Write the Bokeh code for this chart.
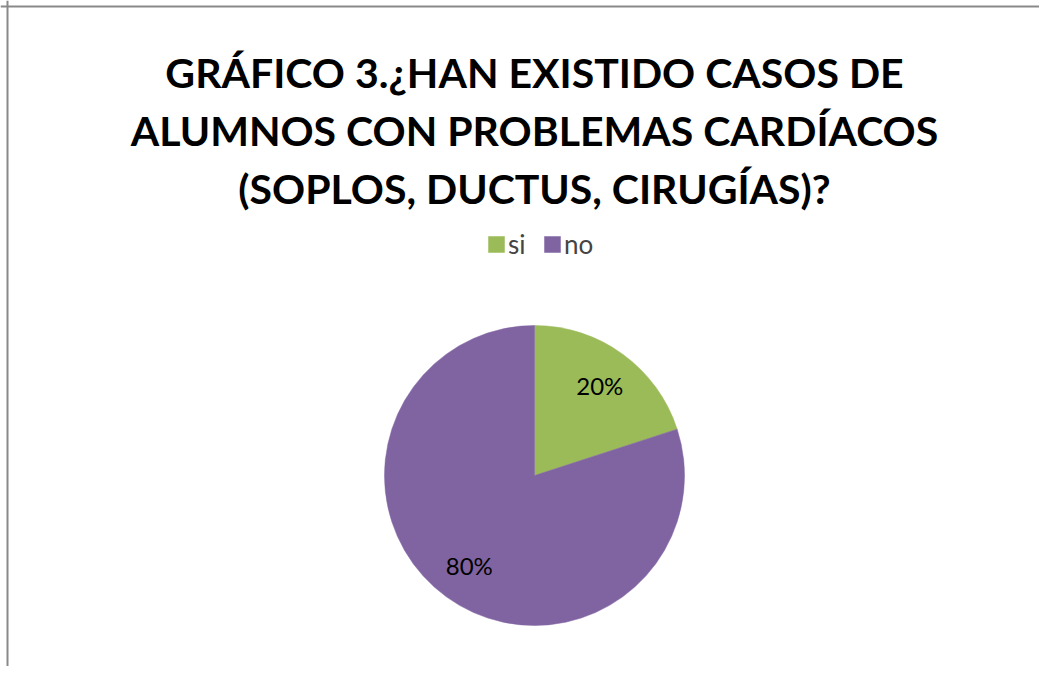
import math
from bokeh.plotting import figure
from bokeh.models import Range1d, ColumnDataSource, Legend, LegendItem, Span
from bokeh.core.properties import value
from bokeh.embed import file_html
from bokeh.resources import INLINE

# ---- data ----
categories = ["si", "no"]
values = [20, 80]
colors = ["#9BBB59", "#8064A2"]
title_lines = [
    "GRÁFICO 3.¿HAN EXISTIDO CASOS DE",
    "ALUMNOS CON PROBLEMAS CARDÍACOS",
    "(SOPLOS, DUCTUS, CIRUGÍAS)?",
]

W, H = 1039, 666
OFF = 0

def py(pixel_y):
    return H - (pixel_y - OFF)

def px(pixel_x):
    return pixel_x - OFF

p = figure(width=W, height=H, output_backend="svg", toolbar_location=None,
           x_range=Range1d(0, W), y_range=Range1d(0, H), min_border=0,
           tools="")
p.axis.visible = False
p.grid.visible = False
p.outline_line_color = None
p.background_fill_color = "white"
p.border_fill_color = "white"

# chart border (left and top only visible in the reference)
p.add_layout(Span(location=px(7), dimension="height", line_color="#898989", line_width=2))
p.add_layout(Span(location=py(6), dimension="width", line_color="#898989", line_width=2))

# ---- pie ----
cx, cy, r = px(534), py(475), 150
total = float(sum(values))
starts, ends, mids = [], [], []
a = math.pi / 2  # start at 12 o'clock, go clockwise
for v in values:
    sweep = 2 * math.pi * v / total
    end = a
    start = a - sweep
    starts.append(start)
    ends.append(end)
    mids.append((start + end) / 2)
    a = start

src = ColumnDataSource(dict(
    cat=categories, val=values, color=colors,
    start=starts, end=ends,
    x=[cx] * len(values), y=[cy] * len(values),
    lx=[cx + 0.74 * r * math.cos(m) for m in mids],
    ly=[cy + 0.74 * r * math.sin(m) for m in mids],
    lbl=[f"{round(100 * v / total)}%" for v in values],
))

renderers = []
for i, c in enumerate(categories):
    sub = ColumnDataSource({k: [vv[i]] for k, vv in src.data.items()})
    rr = p.wedge(x="x", y="y", radius=r, start_angle="start", end_angle="end",
                 fill_color="color", line_color="color", line_width=0.5, source=sub)
    renderers.append(rr)

p.text(x="lx", y="ly", text="lbl", source=src, text_align="center",
       text_baseline="middle", text_font=value("Lato"), text_font_size="24px",
       text_color="black")

# ---- title ----
tsrc = ColumnDataSource(dict(
    x=[px(534)] * 3,
    y=[py(72), py(130), py(188)],
    t=title_lines,
))
p.text(x="x", y="y", text="t", source=tsrc, text_align="center",
       text_baseline="alphabetic", text_font=value("Lato"), text_font_size="41px",
       text_font_style="bold", text_color="black")

# ---- legend ----
legend = Legend(items=[LegendItem(label=c, renderers=[renderers[i]]) for i, c in enumerate(categories)],
                orientation="horizontal", location=(px(486), py(260)),
                glyph_width=20, glyph_height=20, label_text_font="Lato",
                label_text_font_size="26px", label_standoff=2, spacing=14,
                padding=0, margin=0, border_line_color=None, background_fill_alpha=0,
                label_height=20)
p.add_layout(legend, "center")

open("out.html", "w").write(file_html(p, INLINE))
